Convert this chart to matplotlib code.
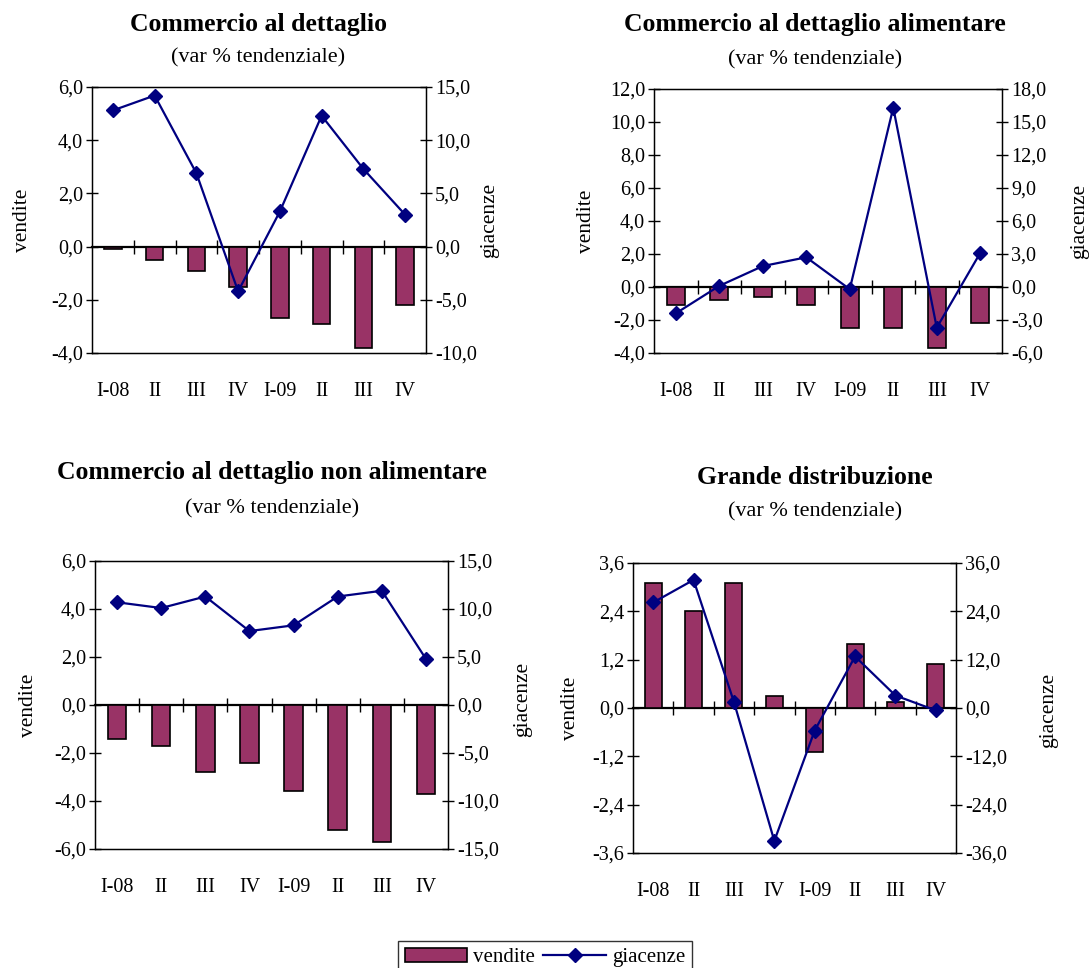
import matplotlib
matplotlib.use('Agg')
import matplotlib.pyplot as plt
import numpy as np
from matplotlib.ticker import FuncFormatter

plt.rcParams['font.family'] = ['Liberation Serif', 'DejaVu Serif']

trimestri = ['I-08', 'II', 'III', 'IV', 'I-09', 'II', 'III', 'IV']

# Commercio al dettaglio
dett_vendite = [-0.1, -0.5, -0.9, -1.5, -2.7, -2.9, -3.8, -2.2]
dett_giacenze = [12.8, 14.2, 6.9, -4.2, 3.3, 12.3, 7.3, 3.0]
# Commercio al dettaglio alimentare
alim_vendite = [-1.1, -0.8, -0.6, -1.1, -2.5, -2.5, -3.7, -2.2]
alim_giacenze = [-2.4, 0.1, 1.9, 2.7, -0.2, 16.3, -3.7, 3.1]
# Commercio al dettaglio non alimentare
nonalim_vendite = [-1.4, -1.7, -2.8, -2.4, -3.6, -5.2, -5.7, -3.7]
nonalim_giacenze = [10.7, 10.1, 11.3, 7.7, 8.3, 11.3, 11.9, 4.8]
# Grande distribuzione
gd_vendite = [3.1, 2.4, 3.1, 0.3, -1.1, 1.6, 0.15, 1.1]
gd_giacenze = [26.2, 31.8, 1.5, -33.0, -5.6, 12.8, 3.1, -0.6]

BAR_COLOR = '#993366'
LINE_COLOR = '#000080'
W, H = 1090, 968
FS = 14.5


def virgola(v, pos):
    v = round(v, 6)
    if v == 0:
        v = 0.0
    return ('%.1f' % v).replace('.', ',')


fmt = FuncFormatter(virgola)

fig = plt.figure(figsize=(W / 100, H / 100), dpi=100)


def pannello(box, titolo, titolo_xy, vendite, giacenze, lim_sx, passo_sx, lim_dx, passo_dx,
             lab_sx, lab_dx):
    l, t, r, b = box
    ax = fig.add_axes([l / W, 1 - b / H, (r - l) / W, (b - t) / H])
    x = np.arange(len(trimestri))
    barre = ax.bar(x, vendite, width=0.42, color=BAR_COLOR, edgecolor='black',
                   linewidth=1.2, zorder=2)
    ax.set_xlim(-0.5, len(trimestri) - 0.5)
    ax.set_ylim(*lim_sx)
    ax.set_yticks(np.arange(lim_sx[0], lim_sx[1] + passo_sx / 2, passo_sx))
    ax.yaxis.set_major_formatter(fmt)
    ax.set_xticks(x)
    ax.set_xticklabels(trimestri)
    ax.tick_params(axis='x', length=0, pad=21, labelsize=FS)
    ax.tick_params(axis='y', direction='inout', length=9, width=1, pad=2, labelsize=FS)
    for s in ax.spines.values():
        s.set_linewidth(1)

    # linea dello zero con le tacche tra i trimestri
    zero = ax.secondary_xaxis(0, transform=ax.transData)
    zero.set_xticks(x[:-1] + 0.5)
    zero.set_xticklabels([])
    zero.tick_params(direction='inout', length=10, width=1)
    for s in zero.spines.values():
        s.set_linewidth(1.6)

    ax2 = ax.twinx()
    linea, = ax2.plot(x, giacenze, color=LINE_COLOR, linewidth=1.6, marker='D',
                      markersize=7, zorder=3)
    ax2.set_ylim(*lim_dx)
    ax2.set_yticks(np.arange(lim_dx[0], lim_dx[1] + passo_dx / 2, passo_dx))
    ax2.yaxis.set_major_formatter(fmt)
    ax2.tick_params(axis='y', direction='inout', length=9, width=1, pad=2, labelsize=FS)

    ax.set_ylabel('vendite', fontsize=15.5, va='center')
    ax.yaxis.set_label_coords(*lab_sx)
    ax2.set_ylabel('giacenze', fontsize=15.5, rotation=90, va='center')
    ax2.yaxis.set_label_coords(*lab_dx)

    tx, ty, sy = titolo_xy
    fig.text(tx / W, 1 - ty / H, titolo, ha='center', va='center',
             fontsize=18.5, fontweight='bold')
    fig.text(tx / W, 1 - sy / H, '(var % tendenziale)', ha='center', va='center',
             fontsize=16)
    return barre, linea


barre, linea = pannello((92, 87, 426, 353), 'Commercio al dettaglio', (258, 25, 58),
                        dett_vendite, dett_giacenze, (-4, 6), 2, (-10, 15), 5,
                        (-0.208, 0.5), (1.189, 0.5))
pannello((654, 89, 1002, 353), 'Commercio al dettaglio alimentare', (815, 25, 60),
         alim_vendite, alim_giacenze, (-4, 12), 2, (-6, 18), 3,
         (-0.193, 0.5), (1.222, 0.5))
pannello((95, 561, 448, 849), 'Commercio al dettaglio non alimentare', (272, 473, 509),
         nonalim_vendite, nonalim_giacenze, (-6, 6), 2, (-15, 15), 5,
         (-0.187, 0.5), (1.21, 0.52))
pannello((633, 563, 956, 853), 'Grande distribuzione', (815, 477, 512),
         gd_vendite, gd_giacenze, (-3.6, 3.6), 1.2, (-36, 36), 12,
         (-0.195, 0.5), (1.288, 0.49))

leg = fig.legend([barre, linea], ['vendite', 'giacenze'], loc='upper center',
                 bbox_to_anchor=(0.5, 1 - 931 / H), ncol=2, fontsize=15,
                 frameon=True, fancybox=False, edgecolor='black', handlelength=3.0,
                 columnspacing=0.4, handletextpad=0.3, borderpad=0.3)
leg.get_frame().set_linewidth(1)

fig.savefig('out.png', dpi=100)
